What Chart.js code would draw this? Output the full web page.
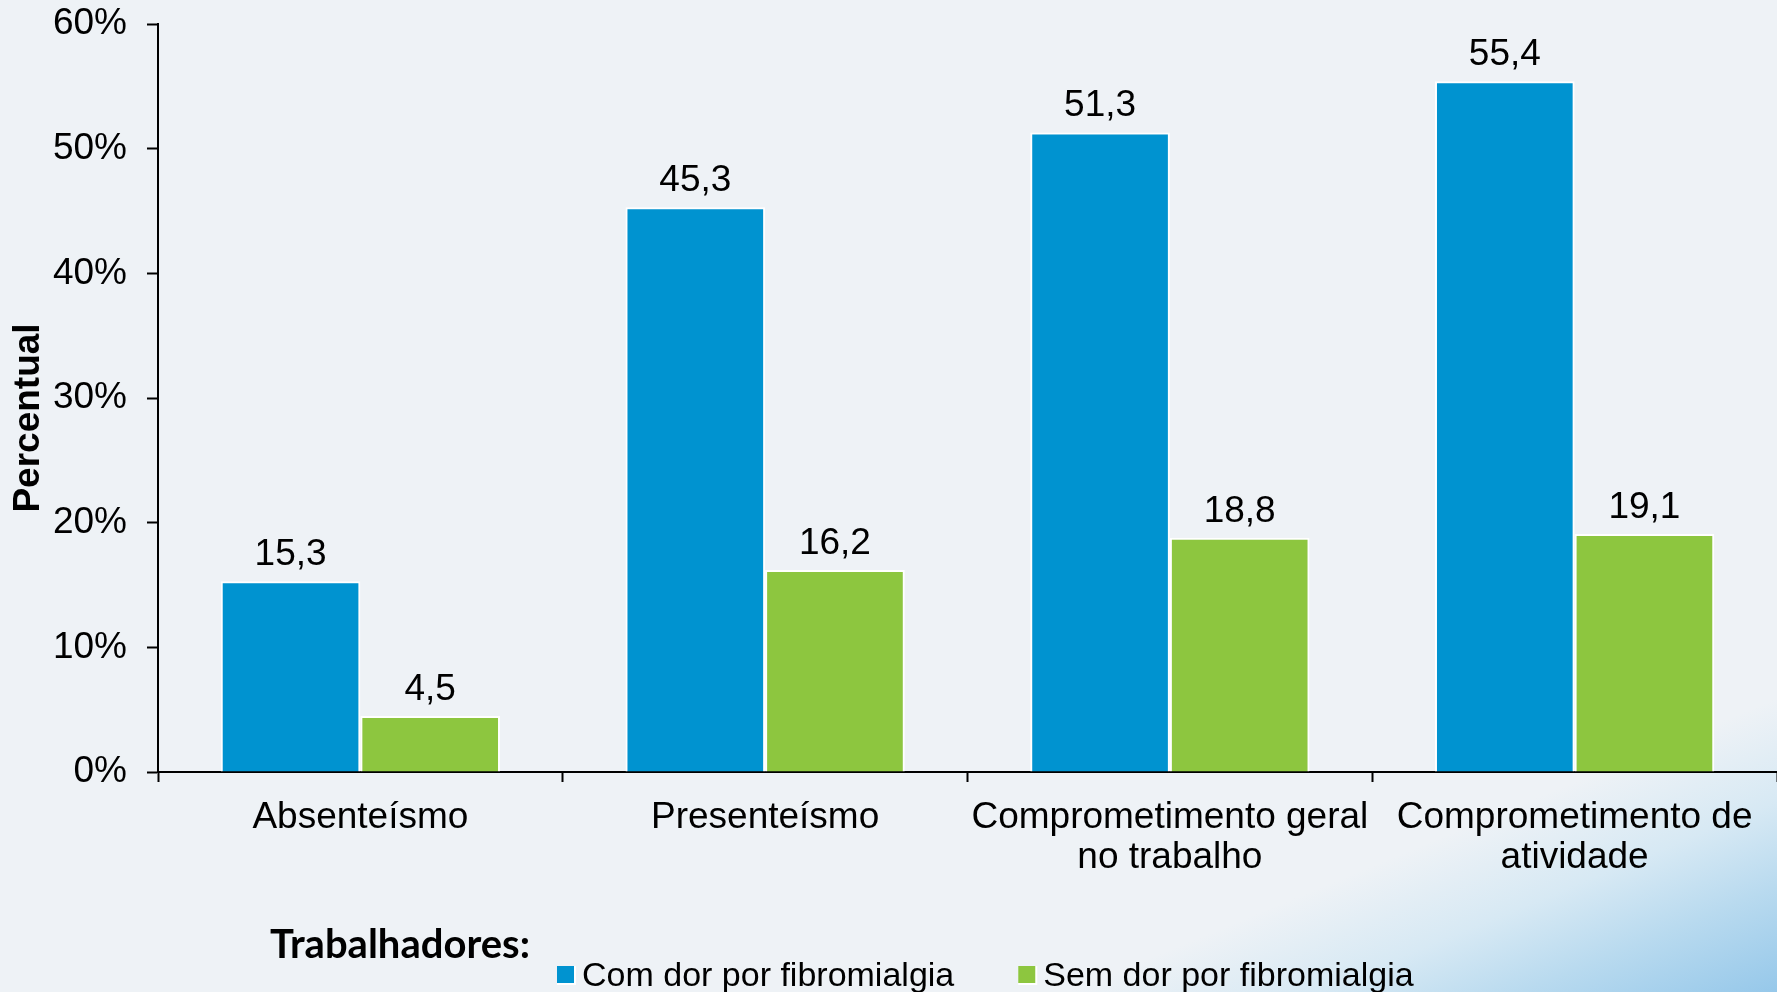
<!DOCTYPE html>
<html>
<head>
<meta charset="utf-8">
<script src="https://cdn.jsdelivr.net/npm/chart.js@4.4.1/dist/chart.umd.min.js"></script>
<style>
  html, body { margin: 0; padding: 0; }
  body {
    width: 1777px; height: 992px; overflow: hidden;
    background:
      linear-gradient(157.5deg, rgba(238,242,246,0) 83%, rgba(205,229,243,0.7) 89%, rgba(178,215,238,0.9) 94%, rgba(150,200,234,1) 100%),
      #eef2f6;
  }
  #wrap { position: relative; width: 1777px; height: 992px; }
</style>
</head>
<body>
<div id="wrap"><canvas id="chart"></canvas></div>
<script>
/* ── data ── */
const categories = [
  'Absenteísmo',
  'Presenteísmo',
  ['Comprometimento geral', 'no trabalho'],
  ['Comprometimento de', 'atividade']
];
const seriesNames = ['Com dor por fibromialgia', 'Sem dor por fibromialgia'];
const comDor = [15.3, 45.3, 51.3, 55.4];
const semDor = [4.5, 16.2, 18.8, 19.1];
const yTicks = [0, 10, 20, 30, 40, 50, 60];

const BLUE = '#0093d0';
const GREEN = '#8dc63f';
const FONT = '"Liberation Sans", Arial, sans-serif';

const fmt = v => v.toFixed(1).replace('.', ',');

/* ── value labels, axis title, legend ── */
const extras = {
  id: 'extras',
  afterDatasetsDraw(chart) {
    const ctx = chart.ctx;
    ctx.save();
    ctx.fillStyle = '#000';
    ctx.font = '37px ' + FONT;
    ctx.textAlign = 'center';
    ctx.textBaseline = 'alphabetic';
    chart.data.datasets.forEach((ds, di) => {
      chart.getDatasetMeta(di).data.forEach((bar, i) => {
        ctx.fillText(fmt(ds.data[i]), bar.x, bar.y - 16);
      });
    });
    ctx.restore();
  },
  afterDraw(chart) {
    const ctx = chart.ctx;
    ctx.save();

    // y axis title
    ctx.translate(29, 418);
    ctx.rotate(-Math.PI / 2);
    ctx.font = 'bold 37px ' + FONT;
    ctx.fillStyle = '#000';
    ctx.textAlign = 'center';
    ctx.textBaseline = 'middle';
    ctx.fillText('Percentual', 0, 0);
    ctx.setTransform(1, 0, 0, 1, 0, 0);

    // legend
    ctx.font = 'bold 40px Lato, "Open Sans", sans-serif';
    ctx.textAlign = 'left';
    ctx.textBaseline = 'alphabetic';
    ctx.fillText('Trabalhadores:', 270, 958);

    ctx.font = '34px ' + FONT;
    let x = 557;
    chart.data.datasets.forEach(ds => {
      ctx.fillStyle = '#ffffff';
      ctx.fillRect(x, 966, 19, 19);
      ctx.fillStyle = ds.backgroundColor;
      ctx.fillRect(x, 966, 17, 17);
      ctx.fillStyle = '#000';
      ctx.fillText(ds.label, x + 25, 986);
      x += 25 + ctx.measureText(ds.label).width + 64;
    });
    ctx.restore();
  }
};

new Chart(document.getElementById('chart'), {
  type: 'bar',
  data: {
    labels: categories,
    datasets: [
      { label: seriesNames[0], data: comDor, backgroundColor: BLUE },
      { label: seriesNames[1], data: semDor, backgroundColor: GREEN }
    ]
  },
  options: {
    responsive: true,
    maintainAspectRatio: false,
    animation: false,
    layout: { padding: { top: 24, left: 0, right: 0, bottom: 0 } },
    datasets: {
      bar: {
        categoryPercentage: 0.69,
        barPercentage: 1.0,
        borderColor: '#ffffff',
        borderWidth: 2,
        borderSkipped: 'start'
      }
    },
    plugins: {
      legend: { display: false },
      tooltip: { enabled: false }
    },
    scales: {
      x: {
        afterFit: s => { s.height = 220; s.paddingLeft = 0; s.paddingRight = 0; },
        grid: { offset: true, drawOnChartArea: false, drawTicks: true, tickLength: 10, tickWidth: 2, tickColor: '#000' },
        border: { color: '#000', width: 2 },
        ticks: {
          color: '#000',
          padding: 15,
          maxRotation: 0,
          autoSkip: false,
          font: { family: FONT, size: 37, lineHeight: 1.1 }
        }
      },
      y: {
        min: 0,
        max: 60,
        afterFit: s => { s.width = 158; s.paddingTop = 0; s.paddingBottom = 0; },
        afterBuildTicks: s => { s.ticks = yTicks.map(v => ({ value: v })); },
        grid: { drawOnChartArea: false, drawTicks: true, tickLength: 11, tickWidth: 2, tickColor: '#000' },
        border: { color: '#000', width: 2 },
        ticks: {
          color: '#000',
          padding: 20,
          font: { family: FONT, size: 37 },
          callback: v => v + '%'
        }
      }
    }
  },
  plugins: [extras]
});
</script>
</body>
</html>
